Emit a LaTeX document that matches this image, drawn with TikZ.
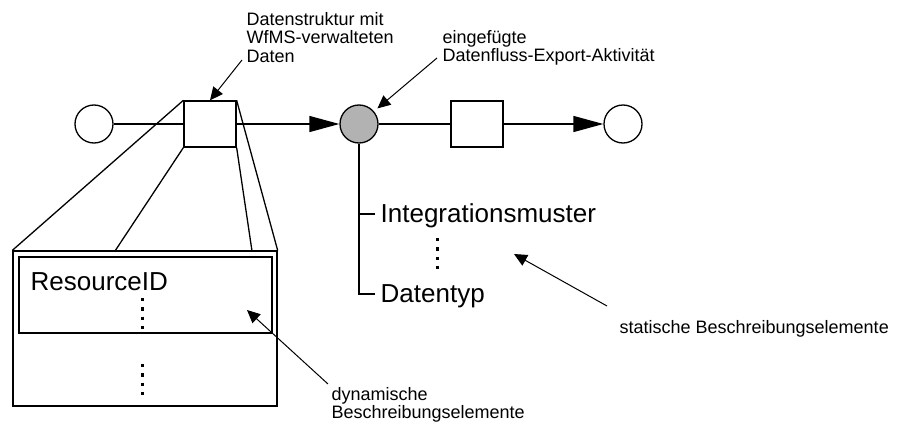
\documentclass[tikz,border=0pt]{standalone}
\usepackage{fontspec}
\setmainfont{Liberation Sans}
\usetikzlibrary{arrows.meta}

\begin{document}
\begin{tikzpicture}[x=1pt,y=-1pt,line width=1.3pt,
  place/.style={circle,draw,minimum size=38pt,inner sep=0pt},
  trans/.style={rectangle,draw,minimum width=52pt,minimum height=46pt,inner sep=0pt},
  small/.style={font=\fontsize{18pt}{18.3pt}\selectfont,inner sep=0pt,align=left},
  big/.style={font=\fontsize{26pt}{30pt}\selectfont,inner sep=0pt},
  flow/.style={-{Triangle[length=30pt,width=16pt]}},
  note/.style={line width=1pt,-{Triangle[length=13pt,width=12pt]}},
  ellip/.style={line width=3pt,dash pattern=on 3.3pt off 6pt}]
\useasboundingbox (0,0) rectangle (899,423);

% net
\node[place] (start) at (94,124) {};
\node[trans] (data) at (210,124) {};
\node[place,fill=black!30] (export) at (359,124) {};
\node[trans] (act) at (477,124) {};
\node[place] (end) at (623,124) {};

% data structure
\node[draw,minimum width=264pt,minimum height=155pt,inner sep=0pt] (struct) at (145,328.5) {};
\node[draw,minimum width=253pt,minimum height=76pt,inner sep=0pt] (attr) at (145.5,295) {};
\node[big,anchor=base west] (resid) at (30,290) {ResourceID};

% description elements
\node[big,anchor=west,text height=17pt,text depth=0pt,inner xsep=5pt] (muster) at (375,214) {Integrationsmuster};
\node[big,anchor=west,text height=17pt,text depth=0pt,inner xsep=5pt] (typ) at (375,294) {Datentyp};

% labels
\node[small,anchor=north west] (lbldata) at (246,12) {Datenstruktur mit\\WfMS-verwalteten\\Daten};
\node[small,anchor=north west] (lblexport) at (442,30) {eingefügte\\Datenfluss-Export-Aktivität};
\node[small,anchor=base west] (lblstatic) at (619,333) {statische Beschreibungselemente};
\node[small,anchor=north west] (lbldyn) at (331,387) {dynamische\\Beschreibungselemente};

\coordinate (zl) at (115,251);
\coordinate (zr) at (252,251);
\coordinate (datatail) at (242,60);
\coordinate (exptail) at (437,58);
\coordinate (stattail) at (607,306);
\coordinate (stattip) at (514,254);
\coordinate (dyntail) at (328,384);
\coordinate (dyntip) at (247,310);

% flow
\draw (start) -- (data);
\draw[flow] (data) -- (export);
\draw (export) -- (act);
\draw[flow] (act) -- (end);

% zoom lines
\draw (data.north west) -- (struct.north west);
\draw (data.south west) -- (zl);
\draw (data.south east) -- (zr);
\draw (data.north east) -- (struct.north east);

% bracket
\draw (export.south) |- (typ.west);
\draw (export.south |- muster.west) -- (muster.west);

% dots
\draw[ellip] (437,238) -- (437,273);
\draw[ellip] (142,298) -- (142,330);
\draw[ellip] (142,364) -- (142,396);

% notes
\draw[note] (datatail) -- (data.north);
\draw[note,shorten >=4.5pt] (exptail) -- (export);
\draw[note] (stattail) -- (stattip);
\draw[note] (dyntail) -- (dyntip);

\end{tikzpicture}
\end{document}
